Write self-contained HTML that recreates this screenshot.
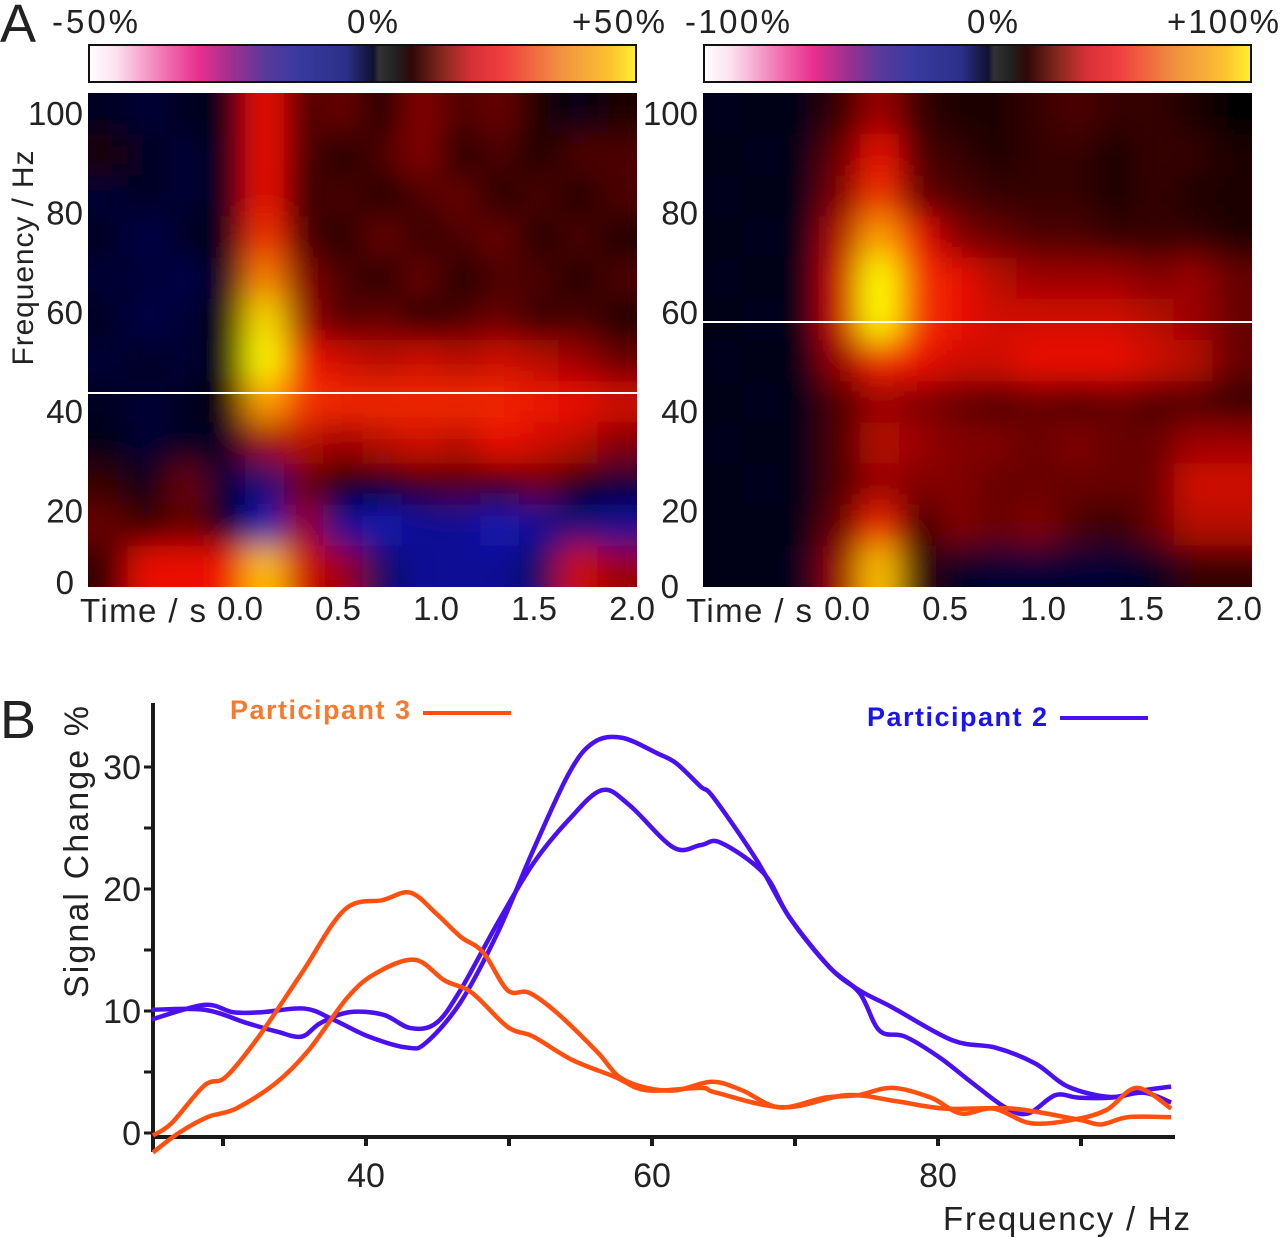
<!DOCTYPE html>
<html><head><meta charset="utf-8">
<style>
html,body{margin:0;padding:0;background:#fff;}
svg{display:block;font-family:"Liberation Sans",sans-serif;}
</style></head>
<body>
<svg id="fig" width="1280" height="1238" viewBox="0 0 1280 1238" xmlns="http://www.w3.org/2000/svg">
<defs>
<linearGradient id="cbar" x1="0" x2="1" y1="0" y2="0">
<stop offset="0" stop-color="#ffffff"/><stop offset="0.05" stop-color="#fbe0ee"/>
<stop offset="0.14" stop-color="#f070b0"/><stop offset="0.2" stop-color="#e8308f"/>
<stop offset="0.26" stop-color="#a03090"/><stop offset="0.32" stop-color="#5a3a9a"/>
<stop offset="0.38" stop-color="#3a3aa0"/><stop offset="0.47" stop-color="#2c3088"/>
<stop offset="0.52" stop-color="#101030"/><stop offset="0.53" stop-color="#333"/>
<stop offset="0.56" stop-color="#222"/><stop offset="0.59" stop-color="#300808"/>
<stop offset="0.65" stop-color="#8a2a20"/><stop offset="0.7" stop-color="#d83038"/>
<stop offset="0.76" stop-color="#f04040"/><stop offset="0.86" stop-color="#f09040"/>
<stop offset="0.95" stop-color="#fcc030"/><stop offset="1" stop-color="#fff030"/>
</linearGradient>
<filter id="blur" x="-5%" y="-5%" width="110%" height="110%"><feGaussianBlur stdDeviation="16"/></filter>
<clipPath id="clipL"><rect x="88" y="93" width="549" height="494"/></clipPath>
<clipPath id="clipR"><rect x="703" y="93" width="549" height="494"/></clipPath>
</defs>

<text x="0" y="42" font-size="54" fill="#222">A</text>
<text x="0" y="738" font-size="54" fill="#222">B</text>

<g>
<rect x="89" y="45" width="547" height="37" fill="url(#cbar)" stroke="#111" stroke-width="2"/>
<text x="52" y="33" font-size="33" fill="#222" textLength="86">-50%</text>
<text x="347" y="33" font-size="33" fill="#222" textLength="51">0%</text>
<text x="572" y="33" font-size="33" fill="#222" textLength="93">+50%</text>
</g>
<g>
<rect x="704" y="45" width="547" height="37" fill="url(#cbar)" stroke="#111" stroke-width="2"/>
<text x="685" y="33" font-size="33" fill="#222" textLength="105">-100%</text>
<text x="967" y="33" font-size="33" fill="#222" textLength="51">0%</text>
<text x="1167" y="33" font-size="33" fill="#222" textLength="112">+100%</text>
</g>

<g id="heatL"></g>
<g id="heatR"></g>

<rect x="88" y="392" width="549" height="2" fill="#fff"/>
<rect x="703" y="321" width="549" height="2" fill="#fff"/>

<g id="axesA" fill="#222"></g>
<text transform="translate(33,258) rotate(-90)" text-anchor="middle" font-size="30" fill="#222" textLength="215">Frequency / Hz</text>

<g id="chartB"></g>
<text transform="translate(88,852) rotate(-90)" text-anchor="middle" font-size="34" fill="#222" textLength="292">Signal Change %</text>
<text x="943" y="1230" font-size="33" fill="#222" textLength="247">Frequency / Hz</text>
<g>
<text x="230" y="719" font-size="27" font-weight="bold" fill="#f67a30" textLength="180">Participant 3</text>
<rect x="423" y="711" width="88" height="4" fill="#ff5010"/>
</g>
<g>
<text x="867" y="726" font-size="27" font-weight="bold" fill="#1a14f0" textLength="180">Participant 2</text>
<rect x="1060" y="716" width="88" height="4" fill="#4a10f0"/>
</g>
</svg>
<script>
const NS="http://www.w3.org/2000/svg";
const heatLeft=[
[-0.2,-0.3,-0.2,-0.1,0.45,0.15,0.2,0.05,0.25,0.15,0.2,0.05,-0.1,0.05],
[0.05,-0.2,-0.3,-0.1,0.45,0.15,0.05,0.15,0.25,0.05,0.15,0.05,0.15,0.15],
[-0.3,-0.2,-0.3,-0.1,0.45,0.1,0.15,0.05,0.15,0.2,0.05,0.15,0.05,0.15],
[-0.2,-0.4,-0.2,-0.1,0.6,0.15,0.05,0.2,0.1,0.15,0.2,0.05,0.15,0.05],
[-0.3,-0.3,-0.4,-0.1,0.8,0.25,0.15,0.05,0.2,0.05,0.15,0.15,0.05,0.15],
[-0.2,-0.4,-0.3,0,0.95,0.3,0.15,0.2,0.05,0.15,0.2,0.1,0.15,0.05],
[-0.3,-0.2,-0.3,0,1.0,0.5,0.4,0.35,0.4,0.35,0.4,0.35,0.3,0.2],
[-0.2,-0.3,-0.2,0,0.85,0.6,0.55,0.55,0.55,0.55,0.55,0.5,0.45,0.4],
[-0.1,-0.3,-0.2,-0.2,0.3,0.35,0.3,0.35,0.4,0.35,0.45,0.4,0.35,0.25],
[0.1,-0.1,0.2,-0.3,-0.6,0.2,0,-0.1,0.1,0.15,0.1,0.2,0,-0.3],
[0.2,0.1,0.2,-0.1,-0.8,0.3,-0.7,-0.8,-0.7,-0.7,-0.8,-0.7,-0.6,-0.7],
[0.1,0.45,0.45,0.5,0.9,0.4,0.3,-0.5,-0.7,-0.7,-0.7,-0.5,0.4,0.3]];
const heatRight=[
[-0.15,-0.1,-0.1,0.1,0.3,0.1,0.05,0.05,0.1,0.15,0.1,0.1,0.05,0],
[-0.1,-0.15,-0.1,0.2,0.45,0.15,0.1,0.05,0.1,0.1,0.05,0.1,0.1,0.05],
[-0.15,-0.1,-0.1,0.25,0.6,0.2,0.15,0.1,0.1,0.1,0.05,0.1,0.05,0.05],
[-0.1,-0.15,-0.1,0.35,0.85,0.45,0.25,0.2,0.15,0.15,0.1,0.1,0.1,0.05],
[-0.15,-0.1,-0.1,0.4,1.0,0.6,0.45,0.35,0.3,0.3,0.3,0.25,0.3,0.2],
[-0.1,-0.15,-0.1,0.4,1.0,0.6,0.45,0.4,0.4,0.4,0.4,0.35,0.3,0.2],
[-0.15,-0.1,-0.1,0.3,0.55,0.45,0.4,0.4,0.45,0.45,0.45,0.4,0.35,0.2],
[-0.1,-0.15,-0.1,0.15,0.3,0.25,0.2,0.15,0.2,0.15,0.2,0.15,0.15,0.1],
[-0.15,-0.1,-0.1,0.15,0.35,0.3,0.25,0.25,0.2,0.25,0.2,0.2,0.3,0.3],
[-0.1,-0.15,-0.1,0.15,0.3,0.25,0.25,0.2,0.2,0.2,0.2,0.2,0.4,0.4],
[-0.1,-0.1,-0.1,0.2,0.55,0.1,0.25,0.2,0.25,0.15,0.1,0.2,0.35,0.35],
[-0.1,-0.1,-0.15,0.3,0.9,0.1,-0.2,-0.3,-0.3,-0.3,-0.3,-0.2,0.1,0.1]];
const freqTicks=[100,80,60,40,20,0];
const timeTicks=["0.0","0.5","1.0","1.5","2.0"];
const p2a=[[25,9.3],[28.7,10.5],[30.7,9.9],[32.7,9.9],[35.7,10.2],[37.7,9.3],[40.2,7.9],[42.9,7.0],[44.2,7.4],[46.6,10.7],[49.2,16.4],[51.7,23.2],[54.2,29.5],[55.9,32],[57.9,32.4],[60.4,31.1],[61.7,30.3],[63.4,28.4],[64.3,27.5],[67.3,22.4],[69.6,17.7],[72.4,13.6],[74.5,11.7],[76.8,10.3],[81,7.6],[84,7.0],[86.8,5.7],[89.1,3.8],[92.1,2.95],[94.4,3.5],[96.3,3.8]];
const p2b=[[25,10.1],[28.7,10.1],[31.7,9.0],[33.8,8.3],[35.5,7.9],[36.8,9.0],[38.8,9.9],[41.2,9.7],[43.1,8.6],[44.9,9.0],[46.6,11.7],[49.2,17.2],[51.7,22.1],[54.2,25.7],[56.5,28.1],[58.4,26.9],[61.5,23.4],[63.4,23.6],[64.8,23.8],[67.8,21.3],[69.6,17.7],[72.4,13.6],[74.5,11.5],[75.9,8.4],[77.7,7.9],[80.1,6.2],[82.4,4.1],[84.7,2.1],[86.3,1.6],[88.2,3.1],[89.8,2.9],[92.1,2.9],[94.4,3.3],[96.3,2.5]];
const p3a=[[25.1,-0.2],[26.4,0.8],[28.7,3.9],[30.2,4.6],[32.5,7.9],[35.5,13.1],[38.5,18.3],[41.2,19.1],[43.1,19.7],[44.9,18],[46.6,16.1],[48.2,14.8],[49.9,11.7],[51.4,11.5],[53.4,9.8],[56.2,6.6],[57.7,4.6],[59.6,3.7],[61.7,3.5],[64.2,4.2],[66.3,3.5],[68.9,2.1],[72.1,2.9],[74.4,3.1],[76.8,3.7],[79.5,2.9],[81.6,1.6],[83.9,2.0],[86.5,0.8],[89.5,1.1],[91.8,1.9],[93.9,3.7],[96.3,2.0]];
const p3b=[[25.1,-1.6],[26.9,0],[28.9,1.3],[30.9,2.0],[33.7,4.1],[36,6.8],[38.7,11.1],[40.7,13.1],[43.4,14.2],[45.5,12.5],[47.4,11.5],[49.9,8.7],[51.7,7.9],[54.4,6.0],[57.4,4.6],[59.6,3.5],[63.4,3.7],[64.5,3.3],[69.2,2.1],[73.6,3.1],[77.1,2.6],[80.5,2.0],[85.2,2.0],[89.8,1.1],[91.4,0.7],[93.3,1.3],[96.3,1.3]];
const yTicksB=[0,10,20,30];
const xTicksB=[40,60,80];

function colorOf(v){
  let r,g,b;
  if(v<0){const a=Math.min(1,-v);const k=Math.pow(a,1.4);r=25*k;g=25*k;b=10+230*k;}
  else if(v<0.45){const t=v/0.45;r=235*t;g=10*t;b=5*t;}
  else if(v<0.75){const t=(v-0.45)/0.3;r=235+20*t;g=10+90*t;b=5;}
  else{const t=Math.min(1,(v-0.75)/0.25);r=255;g=100+155*t;b=5;}
  return `rgb(${r|0},${g|0},${b|0})`;
}
function drawHeat(gid,data,x0,clip){
  const g=document.getElementById(gid);
  const W=549,H=494,y0=93,rows=data.length,cols=data[0].length,cw=W/cols,ch=H/rows;
  const bg=document.createElementNS(NS,"rect");
  bg.setAttribute("x",x0);bg.setAttribute("y",y0);bg.setAttribute("width",W);bg.setAttribute("height",H);bg.setAttribute("fill","#000");
  
  
  g.appendChild(bg);
  const cg=document.createElementNS(NS,"g");cg.setAttribute("clip-path",`url(#${clip})`);
  const bl=document.createElementNS(NS,"g");bl.setAttribute("filter","url(#blur)");
  cg.appendChild(bl);g.appendChild(cg);
  for(let r=-1;r<=rows;r++)for(let c=-1;c<=cols;c++){
    const rr=Math.max(0,Math.min(rows-1,r)),cc=Math.max(0,Math.min(cols-1,c));
    const rect=document.createElementNS(NS,"rect");
    rect.setAttribute("x",x0+c*cw);rect.setAttribute("y",y0+r*ch);
    rect.setAttribute("width",cw+0.5);rect.setAttribute("height",ch+0.5);
    rect.setAttribute("fill",colorOf(data[rr][cc]));
    
    
    bl.appendChild(rect);
  }
}
drawHeat("heatL",heatLeft,88,"clipL");
drawHeat("heatR",heatRight,703,"clipR");

function txt(parent,x,y,s,anchor,size,name){
  const t=document.createElementNS(NS,"text");
  t.setAttribute("x",x);t.setAttribute("y",y);t.textContent=s;
  if(anchor)t.setAttribute("text-anchor",anchor);
  if(size)t.setAttribute("font-size",size);
  
  
  parent.appendChild(t);return t;
}
const axA=document.getElementById("axesA");
const fy=f=>f===0?594:113+(100-f)*4.97+12;
freqTicks.forEach(f=>{
  txt(axA,f===0?74:83,fy(f),String(f),"end",33,"y-tick-label-left");
  txt(axA,f===0?679:698,f===0?598:fy(f),String(f),"end",33,"y-tick-label-right");
});
const tx=(x0,t)=>x0+t*196;
timeTicks.forEach(s=>{
  txt(axA,tx(240,parseFloat(s)),620,s,"middle",33,"x-tick-label-left");
  txt(axA,tx(847,parseFloat(s)),620,s,"middle",33,"x-tick-label-right");
});
txt(axA,80,622,"Time / s",null,33,"x-axis-title-left").setAttribute("textLength","126");
txt(axA,686,622,"Time / s",null,33,"x-axis-title-right").setAttribute("textLength","126");

const gB=document.getElementById("chartB");
const X=f=>366+(f-40)*14.3;
const Y=v=>1133-12.2*v;
function line(x1,y1,x2,y2,w,name){
  const l=document.createElementNS(NS,"line");
  l.setAttribute("x1",x1);l.setAttribute("y1",y1);l.setAttribute("x2",x2);l.setAttribute("y2",y2);
  l.setAttribute("stroke","#1a1a1a");l.setAttribute("stroke-width",w);
  
  
  gB.appendChild(l);
}
line(153,703,153,1152,4,"y-axis-line");
line(151,1137,1175,1137,4,"x-axis-line");
for(let v=0;v<=30;v+=5){line(144,Y(v),153,Y(v),3,"y-tick");}
for(let f=30;f<=90;f+=10){line(X(f),1137,X(f),1146,4,"x-tick");}
yTicksB.forEach(v=>txt(gB,141,Y(v)+12,String(v),"end",34,"y-tick-label").setAttribute("fill","#222"));
xTicksB.forEach(f=>txt(gB,X(f),1187,String(f),"middle",34,"x-tick-label").setAttribute("fill","#222"));
function smoothPath(pts){
  const p=pts.map(([f,v])=>[X(f),Y(v)]);
  let d=`M${p[0][0]},${p[0][1]}`;
  for(let i=0;i<p.length-1;i++){
    const p0=p[i-1]||p[i],p1=p[i],p2=p[i+1],p3=p[i+2]||p2;
    const c1=[p1[0]+(p2[0]-p0[0])/6,p1[1]+(p2[1]-p0[1])/6];
    const c2=[p2[0]-(p3[0]-p1[0])/6,p2[1]-(p3[1]-p1[1])/6];
    d+=` C${c1[0]},${c1[1]} ${c2[0]},${c2[1]} ${p2[0]},${p2[1]}`;
  }
  return d;
}
[[p2a,"#4a10f0","series-participant-2-a"],[p2b,"#4a10f0","series-participant-2-b"],[p3a,"#ff5010","series-participant-3-a"],[p3b,"#ff5010","series-participant-3-b"]].forEach(([pts,col,name])=>{
  const pa=document.createElementNS(NS,"path");
  pa.setAttribute("d",smoothPath(pts));pa.setAttribute("fill","none");
  pa.setAttribute("stroke",col);pa.setAttribute("stroke-width",4.5);pa.setAttribute("stroke-linejoin","round");
  
  
  gB.appendChild(pa);
});
</script>
</body></html>
